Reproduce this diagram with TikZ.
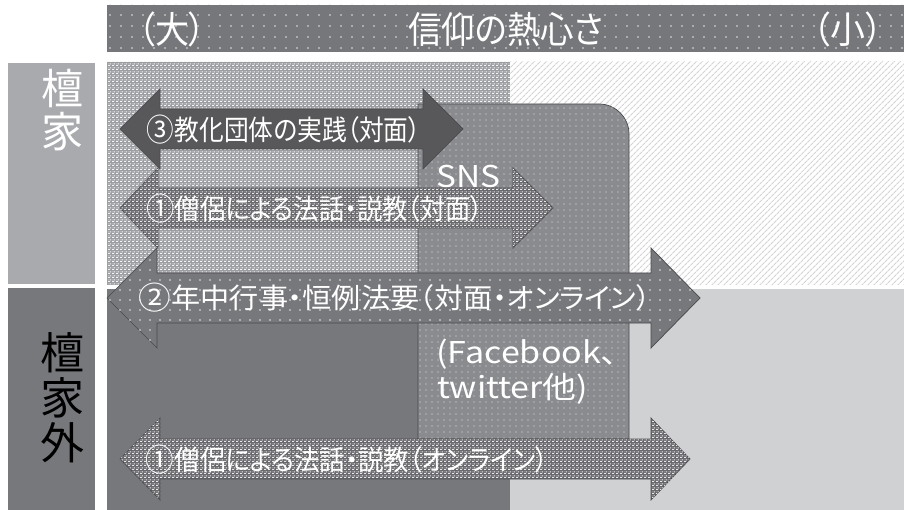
\documentclass[tikz,border=0pt]{standalone}
\usepackage{graphicx}
\usepackage{fontspec}
\setmainfont{Noto Sans CJK JP}[RawFeature={+palt}]
\newfontfamily\fullfont{Noto Sans CJK JP}
\usetikzlibrary{patterns.meta}

\definecolor{barGray}{HTML}{76777B}
\definecolor{lightBox}{HTML}{A9AAAE}
\definecolor{darkBox}{HTML}{77787C}
\definecolor{tlBase}{HTML}{9C9DA1}
\definecolor{brLight}{HTML}{D0D1D3}
\definecolor{snsGray}{HTML}{8A8B8F}
\definecolor{arrDark}{HTML}{58585B}
\definecolor{arrOne}{HTML}{68696D}
\definecolor{hatchGray}{HTML}{D4D4D6}
\definecolor{edgeGray}{HTML}{4A4A4D}

\tikzdeclarepattern{
  name=brick,
  type=uncolored,
  bottom left={(0pt,0pt)},
  top right={(4pt,4pt)},
  tile size={(4pt,4pt)},
  code={
    \fill (0pt,0pt) rectangle (2.6pt,1.2pt);
    \fill (2pt,2pt) rectangle (4pt,3.2pt);
    \fill (0pt,2pt) rectangle (0.6pt,3.2pt);
  }
}

\newcommand\blockdbl[8]{%
  \path[#1] (#2,#6) -- (#3,#6-#8) -- (#3,#6-#7) -- (#4,#6-#7) -- (#4,#6-#8)
    -- (#5,#6) -- (#4,#6+#8) -- (#4,#6+#7) -- (#3,#6+#7) -- (#3,#6+#8) -- cycle;}
\newcommand\fitw[2]{\resizebox{#1}{\height}{#2}}
\newcommand\bigdigit[1]{\raisebox{-0.06em}{\scalebox{1.12}{#1}}}

\tikzset{
  bardots/.style={fill=barGray, postaction={pattern={Dots[distance=11pt,radius=0.9pt]}, pattern color=white!80!barGray}},
  tlregion/.style={fill=tlBase, postaction={pattern=brick, pattern color=white!90!tlBase}},
  trregion/.style={fill=white, postaction={pattern={Lines[angle=45,distance=4pt,line width=1.2pt]}, pattern color=hatchGray}},
  snsbox/.style={fill=snsGray, draw=edgeGray, line width=0.7pt, postaction={pattern={Dots[distance=6pt,radius=0.7pt]}, pattern color=white!75!snsGray}},
  arrthree/.style={fill=arrDark, draw=edgeGray, line width=0.7pt},
  arrone/.style={fill=arrOne, draw=edgeGray, line width=0.7pt, postaction={pattern=brick, pattern color=white!85!arrOne}},
  arrtwo/.style={fill=darkBox, draw=edgeGray, line width=0.7pt, postaction={pattern={Dots[distance=10pt,radius=0.8pt]}, pattern color=white!80!darkBox}},
  wtext/.style={text=white, inner sep=0pt},
  headfont/.style={font=\fontsize{37pt}{37pt}\selectfont},
  arrfont/.style={font=\fontsize{28pt}{28pt}\selectfont},
  snsfont/.style={font=\fontsize{30pt}{30pt}\selectfont},
}

\begin{document}
\begin{tikzpicture}[x=1pt, y=-1pt]
\useasboundingbox (0,0) rectangle (904,510);
\fill[white] (0,0) rectangle (904,510);

% header bar
\path[bardots] (107,5) rectangle (904,52);
\node[wtext, headfont] (big) at (172,29) {\fitw{68pt}{（大）}};
\node[wtext, headfont] (title) at (506,29) {\fitw{195pt}{信仰の熱心さ}};
\node[wtext, headfont] (small) at (848,29) {\fitw{70pt}{（小）}};

% left labels
\fill[lightBox] (8,63) rectangle (95,284);
\fill[darkBox] (8,288) rectangle (95,510);
\node[wtext, align=center, font=\fontsize{42pt}{43pt}\selectfont] (danka) at (62,110) {檀\\家};
\node[inner sep=0pt, text=black, align=center, font=\fontsize{44pt}{45pt}\selectfont] (dankagai) at (62,398) {檀\\家\\外};

% main regions
\path[tlregion] (107,62) rectangle (510,285);
\path[trregion] (510,62) rectangle (904,285);
\fill[darkBox] (107,289) rectangle (510,510);
\fill[brLight] (510,289) rectangle (904,510);

% SNS box
\path[snsbox] (418,439) -- (418,104) -- (599,104) .. controls (615.6,104) and (629,117.4) .. (629,134) -- (629,439) -- cycle;
\node[wtext, anchor=base west, snsfont] (sns) at (436,188) {\fitw{64pt}{SNS}};
\node[wtext, anchor=base west, snsfont] (fb) at (436,363) {\fitw{182pt}{(Facebook、}};
\node[wtext, anchor=base west, snsfont] (tw) at (437,398) {\fitw{151pt}{twitter他)}};

% arrows
\blockdbl{arrthree}{120}{160}{423}{463}{129}{20}{40}
\node[wtext, arrfont] (a3) at (284,130) {\fitw{274pt}{\bigdigit{③}教化団体の実践（対面）}};

\blockdbl{arrone}{120}{158}{513}{553}{208}{20}{40}
\node[wtext, arrfont] (a1) at (315,209) {\fitw{337pt}{\bigdigit{①}僧侶による法話・説教（対面）}};

\blockdbl{arrtwo}{107}{157}{651}{700}{298}{25}{50}
\node[wtext, arrfont] (a2) at (395,298) {\fitw{512pt}{\bigdigit{②}年中行事・恒例法要（対面・オンライン）}};

\blockdbl{arrone}{120}{160}{651}{690}{459}{20}{41}
\node[wtext, arrfont] (a1b) at (347,460) {\fitw{402pt}{\bigdigit{①}僧侶による法話・説教（オンライン）}};
\end{tikzpicture}
\end{document}
